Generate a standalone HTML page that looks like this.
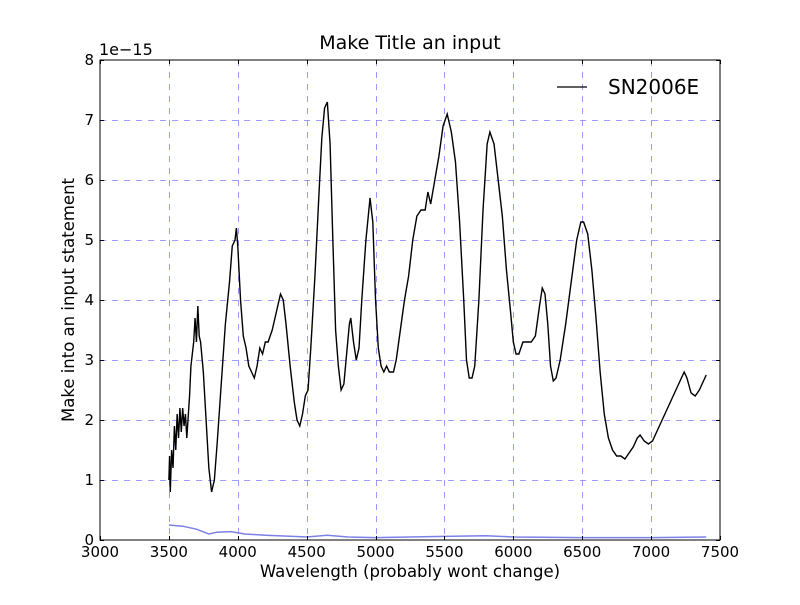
<!DOCTYPE html>
<html><head><meta charset="utf-8"><style>
body{margin:0;background:#fff;}
svg text{font-family:"DejaVu Sans","Liberation Sans",sans-serif;}
</style></head><body>
<svg id="c" width="800" height="600" xmlns="http://www.w3.org/2000/svg">
<rect width="800" height="600" fill="#fff"/>
<g id="grid"></g>
<g id="series"></g>
<rect x="100" y="60" width="620" height="480" fill="none" stroke="#000" stroke-width="1"/>
<g id="ticks"></g>
<text x="410" y="49" font-size="19" text-anchor="middle">Make Title an input</text>
<text x="410" y="577" font-size="16.5" text-anchor="middle">Wavelength (probably wont change)</text>
<text transform="translate(74,300) rotate(-90)" font-size="16.5" text-anchor="middle">Make into an input statement</text>
<text x="99" y="55" font-size="16">1e−15</text>
<g>
<line x1="557" y1="87" x2="587" y2="87" stroke="#000" stroke-width="1.2"/>
<text x="608" y="94" font-size="20">SN2006E</text>
</g>
</svg>
<script>
const wl=[3500,3505,3510,3520,3530,3540,3550,3560,3570,3580,3590,3600,3610,3620,3630,3650,3660,3680,3690,3700,3710,3720,3730,3750,3770,3790,3810,3830,3850,3880,3910,3940,3960,3980,3990,4000,4020,4040,4060,4080,4100,4120,4140,4160,4180,4200,4220,4250,4280,4310,4330,4350,4380,4410,4430,4450,4470,4490,4510,4530,4560,4590,4610,4630,4650,4670,4690,4710,4730,4750,4770,4790,4810,4820,4840,4860,4880,4900,4930,4960,4980,5000,5020,5040,5060,5080,5100,5130,5150,5180,5210,5240,5270,5300,5330,5360,5380,5400,5430,5460,5490,5520,5550,5580,5610,5640,5660,5680,5700,5720,5750,5780,5810,5830,5860,5890,5920,5950,5980,6000,6020,6040,6070,6100,6130,6160,6190,6210,6230,6250,6270,6290,6310,6340,6380,6420,6460,6490,6510,6540,6570,6600,6630,6660,6690,6720,6750,6780,6810,6840,6870,6900,6920,6950,6980,7010,7050,7100,7150,7200,7240,7260,7290,7320,7350,7380,7400];
const flux=[1.0,1.4,0.8,1.5,1.2,1.9,1.5,2.1,1.7,2.2,1.8,2.2,1.9,2.1,1.7,2.4,2.9,3.3,3.7,3.3,3.9,3.4,3.3,2.8,2.0,1.2,0.8,1.0,1.6,2.6,3.6,4.3,4.9,5.0,5.2,4.9,4.0,3.4,3.2,2.9,2.8,2.7,2.9,3.2,3.1,3.3,3.3,3.5,3.8,4.1,4.0,3.6,2.9,2.3,2.0,1.9,2.1,2.4,2.5,3.2,4.4,5.8,6.7,7.2,7.3,6.6,5.0,3.5,2.9,2.5,2.6,3.1,3.6,3.7,3.3,3.0,3.2,4.0,5.0,5.7,5.3,4.0,3.2,2.9,2.8,2.9,2.8,2.8,3.0,3.5,4.0,4.4,5.0,5.4,5.5,5.5,5.8,5.6,6.0,6.4,6.9,7.1,6.8,6.3,5.3,4.0,3.0,2.7,2.7,2.9,4.0,5.5,6.6,6.8,6.6,6.0,5.4,4.5,3.8,3.3,3.1,3.1,3.3,3.3,3.3,3.4,3.9,4.2,4.1,3.6,2.9,2.65,2.7,3.0,3.6,4.3,5.0,5.3,5.3,5.1,4.5,3.7,2.8,2.1,1.7,1.5,1.4,1.4,1.35,1.45,1.55,1.7,1.75,1.65,1.6,1.65,1.85,2.1,2.35,2.6,2.8,2.7,2.45,2.4,2.5,2.65,2.75];
const errWl=[3500,3600,3700,3790,3850,3950,4050,4200,4400,4500,4650,4800,5000,5500,5800,6000,6500,7000,7400];
const errFlux=[0.25,0.23,0.18,0.1,0.13,0.14,0.1,0.08,0.06,0.05,0.08,0.05,0.04,0.06,0.07,0.05,0.04,0.04,0.05];
const xTicks=[3000,3500,4000,4500,5000,5500,6000,6500,7000,7500];
const yTicks=[0,1,2,3,4,5,6,7,8];
const NS="http://www.w3.org/2000/svg";
const X=v=>100+(v-3000)*620/4500, Y=v=>540-v*60;
function mk(t,a,p){const e=document.createElementNS(NS,t);for(const k in a)e.setAttribute(k,a[k]);p.appendChild(e);return e;}
const g=document.getElementById('grid'),tk=document.getElementById('ticks'),s=document.getElementById('series');
xTicks.forEach(v=>{
 const xp=Math.round(X(v))+0.5;
 if(v>3000&&v<7500){const l=mk('line',{x1:xp,x2:xp,y1:60,y2:540,stroke:'#8080ff','stroke-dasharray':'6,6','stroke-width':0.8},g);
 
 }
 mk('line',{x1:xp,x2:xp,y1:540,y2:536,stroke:'#000'},tk);
 mk('line',{x1:xp,x2:xp,y1:60,y2:64,stroke:'#000'},tk);
 const t=mk('text',{x:X(v),y:557,'font-size':15,'text-anchor':'middle'},tk);t.textContent=v;
 
 
});
yTicks.forEach(v=>{
 const yp=Math.round(Y(v))+0.5;
 if(v>0&&v<8){const l=mk('line',{x1:100,x2:720,y1:yp,y2:yp,stroke:'#8080ff','stroke-dasharray':'6,6','stroke-width':0.8},g);
 
 }
 mk('line',{x1:100,x2:104,y1:yp,y2:yp,stroke:'#000'},tk);
 mk('line',{x1:716,x2:720,y1:yp,y2:yp,stroke:'#000'},tk);
 const t=mk('text',{x:94,y:Y(v)+5,'font-size':15,'text-anchor':'end'},tk);t.textContent=v;
 
 
});
const ep=mk('polyline',{points:errWl.map((w,i)=>X(w)+','+Y(errFlux[i])).join(' '),fill:'none',stroke:'#7b82e6','stroke-width':1.5},s);


const fp=mk('polyline',{points:wl.map((w,i)=>X(w)+','+Y(flux[i])).join(' '),fill:'none',stroke:'#000','stroke-width':1.4},s);


</script>
</body></html>
